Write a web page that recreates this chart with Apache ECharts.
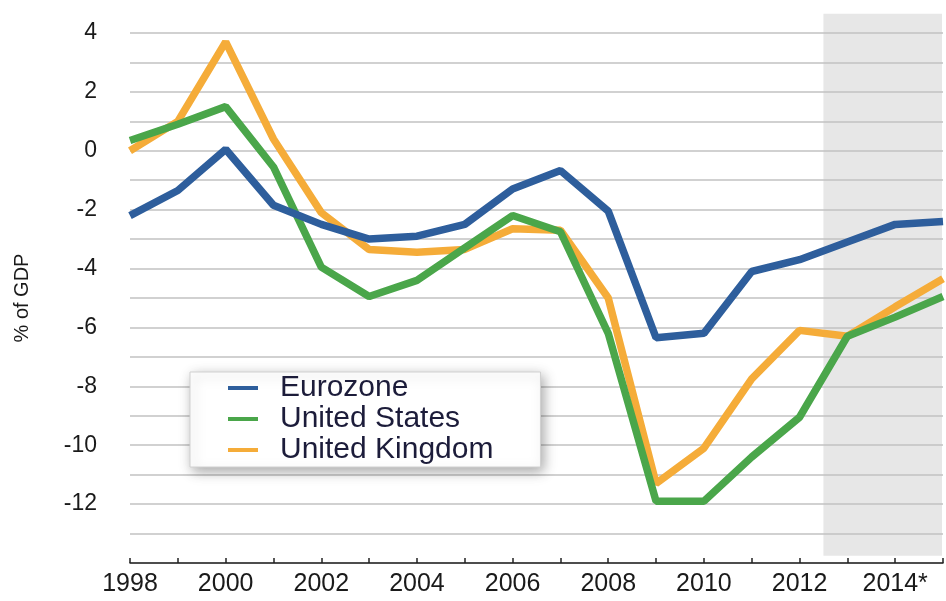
<!DOCTYPE html>
<html>
<head>
<meta charset="utf-8">
<script src="https://cdn.jsdelivr.net/npm/echarts@6/dist/echarts.min.js"></script>
<style>
html,body{margin:0;padding:0;background:#fff;}
#chart{width:946px;height:601px;}
</style>
</head>
<body>
<div id="chart"></div>
<script>
const years = [1998,1999,2000,2001,2002,2003,2004,2005,2006,2007,2008,2009,2010,2011,2012,2013,2014,2015];
const yearLabels = ['1998','','2000','','2002','','2004','','2006','','2008','','2010','','2012','','2014*',''];
const yTickLabels = ['4','2','0','-2','-4','-6','-8','-10','-12'];
const eurozone = [-2.2,-1.35,0.05,-1.85,-2.5,-3.0,-2.9,-2.5,-1.3,-0.67,-2.05,-6.35,-6.2,-4.1,-3.7,-3.1,-2.5,-2.4];
const unitedStates = [0.35,0.9,1.5,-0.55,-3.95,-4.95,-4.4,-3.3,-2.2,-2.75,-6.2,-11.9,-11.9,-10.4,-9.05,-6.3,-5.65,-4.95];
const unitedKingdom = [0.0,1.0,3.7,0.4,-2.1,-3.35,-3.45,-3.35,-2.65,-2.7,-5.0,-11.3,-10.1,-7.75,-6.1,-6.3,-5.3,-4.35];
const forecastStart = 2012.5;
const forecastEnd = 2015;
const shadeTop = 4.65;
const shadeBottom = -13.75;

const pairs = arr => years.map((y, i) => [y, arr[i]]);

const chart = echarts.init(document.getElementById('chart'));
const font = 'Liberation Sans, Arial, Helvetica, sans-serif';

chart.setOption({
  animation: false,
  backgroundColor: '#ffffff',
  grid: { left: 130, right: 3, top: 33, bottom: 38 },
  legend: {
    orient: 'vertical',
    left: 190,
    top: 372,
    padding: [1, 47, 2, 38],
    itemGap: 1,
    itemWidth: 30,
    itemHeight: 4,
    icon: 'rect',
    backgroundColor: '#ffffff',
    borderColor: '#d0d0d0',
    borderWidth: 1,
    shadowBlur: 12,
    shadowColor: 'rgba(0,0,0,0.35)',
    shadowOffsetX: 3,
    shadowOffsetY: 4,
    textStyle: { fontFamily: font, fontSize: 30, color: '#1c1c3a', lineHeight: 27, padding: [0, 0, 0, 17] },
    data: ['Eurozone', 'United States', 'United Kingdom']
  },
  xAxis: {
    type: 'value',
    min: 1998,
    max: 2015,
    interval: 1,
    axisLine: { show: true, onZero: false, lineStyle: { color: '#222', width: 1.5 } },
    axisTick: { show: true, inside: true, length: 5, lineStyle: { color: '#222', width: 1.5 } },
    splitLine: { show: false },
    axisLabel: {
      fontFamily: font,
      fontSize: 25,
      color: '#1a1a1a',
      margin: 9,
      formatter: v => { const i = years.indexOf(Math.round(v)); return i >= 0 ? yearLabels[i] : ''; }
    }
  },
  yAxis: {
    type: 'value',
    min: -14,
    max: 4,
    interval: 1,
    name: '% of GDP',
    nameLocation: 'middle',
    nameRotate: 90,
    nameGap: 98,
    nameTextStyle: { fontFamily: font, fontSize: 20, color: '#1a1a1a' },
    axisLine: { show: false },
    axisTick: { show: false },
    splitLine: { show: true, lineStyle: { color: '#c2c2c2', width: 1.5 } },
    axisLabel: {
      fontFamily: font,
      fontSize: 23,
      color: '#1a1a1a',
      margin: 33,
      formatter: v => yTickLabels.indexOf(String(v)) >= 0 ? String(v) : ''
    }
  },
  series: [
    { name: 'Eurozone', type: 'line', data: pairs(eurozone), showSymbol: false, symbol: 'none', z: 5,
      itemStyle: { color: '#2e5e9c' }, lineStyle: { color: '#2e5e9c', width: 7.5 } },
    { name: 'United States', type: 'line', data: pairs(unitedStates), showSymbol: false, symbol: 'none', z: 4,
      itemStyle: { color: '#4aa64a' }, lineStyle: { color: '#4aa64a', width: 7.5 } },
    { name: 'United Kingdom', type: 'line', data: pairs(unitedKingdom), showSymbol: false, symbol: 'none', z: 3,
      itemStyle: { color: '#f5ac39' }, lineStyle: { color: '#f5ac39', width: 7.5 } }
  ]
});

const p1 = chart.convertToPixel({ gridIndex: 0 }, [forecastStart, shadeTop]);
const p2 = chart.convertToPixel({ gridIndex: 0 }, [forecastEnd, shadeBottom]);
chart.setOption({
  graphic: [{
    type: 'rect',
    z: -10,
    silent: true,
    shape: { x: p1[0], y: p1[1], width: p2[0] - p1[0] - 1, height: p2[1] - p1[1] },
    style: { fill: '#e7e7e7' }
  }]
});
</script>
</body>
</html>
